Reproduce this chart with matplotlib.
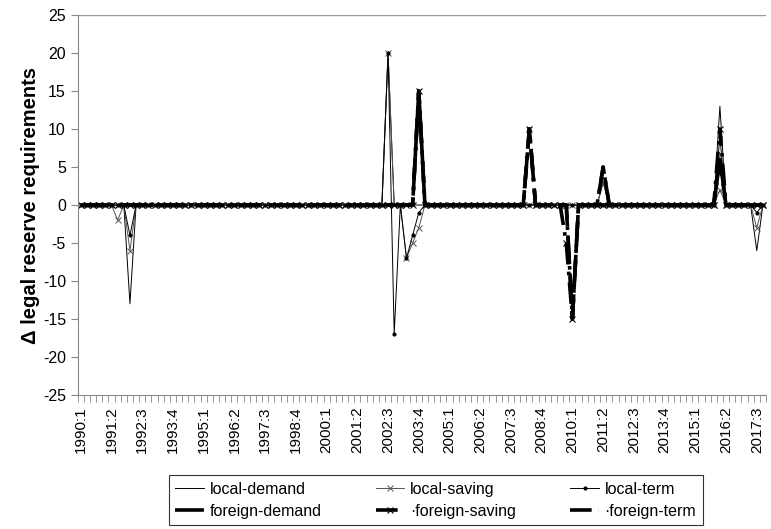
import matplotlib.pyplot as plt
import numpy as np

plt.rcParams['font.family'] = ['Liberation Sans', 'DejaVu Sans']
plt.rcParams['axes.unicode_minus'] = False

# quarters 1990:1 .. 2017:4
periods = [f"{y}:{q}" for y in range(1990, 2018) for q in range(1, 5)]

# non-zero changes (all other quarters are 0)
local_demand = {"1992:1": -13, "2002:3": 20, "2011:2": 3, "2016:1": 13, "2017:3": -6}
local_saving = {"1991:3": -2, "1992:1": -6, "2002:3": 20, "2003:2": -7, "2003:3": -5,
                "2003:4": -3, "2011:2": 3, "2016:1": 2, "2017:3": -3}
local_term = {"1992:1": -4, "2002:3": 20, "2002:4": -17, "2003:2": -7, "2003:3": -4,
              "2003:4": -1, "2016:1": 9, "2017:3": -1}
foreign_demand = {"2003:4": 15, "2008:2": 10, "2010:1": -15, "2011:2": 5, "2016:1": 6}
foreign_saving = {"2003:4": 15, "2008:2": 10, "2009:4": -5, "2010:1": -15, "2016:1": 10}
foreign_term = {"2003:4": 15, "2008:2": 10, "2010:1": -15, "2011:2": 5, "2016:1": 6}


def series(changes):
    return np.array([changes.get(p, 0) for p in periods], dtype=float)


x = np.arange(len(periods))

fig = plt.figure(figsize=(7.71, 5.29), dpi=100)
ax = fig.add_axes([0.1008, 0.2533, 0.8927, 0.7183])

h_ld, = ax.plot(x, series(local_demand), color='black', lw=0.7, label='local-demand')
h_ls, = ax.plot(x, series(local_saving), color='#555555', lw=0.7, marker='x', ms=4,
                mew=0.7, label='local-saving')
h_lt, = ax.plot(x, series(local_term), color='black', lw=0.7, marker='o', ms=2,
                label='local-term')
h_fd, = ax.plot(x, series(foreign_demand), color='black', lw=2.6, dashes=(8, 2.5),
                label='foreign-demand')
h_fs, = ax.plot(x, series(foreign_saving), color='black', lw=2.6, dashes=(6, 2, 1, 2),
                marker='x', ms=4, mew=0.8, label='\u00b7foreign-saving')
h_ft, = ax.plot(x, series(foreign_term), color='black', lw=2.6, dashes=(6, 2, 1, 2),
                label='\u00b7foreign-term')

ax.set_xlim(-0.5, len(periods) - 0.5)
ax.set_ylim(-25, 25)
ax.set_yticks(np.arange(-25, 26, 5))
ax.axhline(25, color='#999999', lw=1)

ax.set_xticks(x[::5])
ax.set_xticklabels(periods[::5], rotation=90)
ax.set_xticks(np.arange(-0.5, len(periods), 1), minor=True)
ax.tick_params(axis='x', which='major', length=0, labelsize=11, pad=8)
ax.tick_params(axis='x', which='minor', length=5, color='#888888', direction='out')
ax.tick_params(axis='y', length=5, color='#888888', labelsize=11.5)

for side in ['top', 'right']:
    ax.spines[side].set_visible(False)
for side in ['left', 'bottom']:
    ax.spines[side].set_color('#888888')

ax.set_ylabel('\u0394 legal reserve requirements', fontsize=14.5, fontweight='bold',
              labelpad=2)

leg = fig.legend([h_ld, h_fd, h_ls, h_fs, h_lt, h_ft],
                 ['local-demand', 'foreign-demand', 'local-saving', '\u00b7foreign-saving',
                  'local-term', '\u00b7foreign-term'],
                 ncol=3, loc='lower center', bbox_to_anchor=(0.565, 0.004),
                 fontsize=11.5, frameon=True, fancybox=False, edgecolor='black',
                 handlelength=1.8, handletextpad=0.35, columnspacing=3.4,
                 borderpad=0.4, labelspacing=0.45, borderaxespad=0.1)
leg.get_frame().set_linewidth(0.8)

fig.savefig('out.png', dpi=100)
